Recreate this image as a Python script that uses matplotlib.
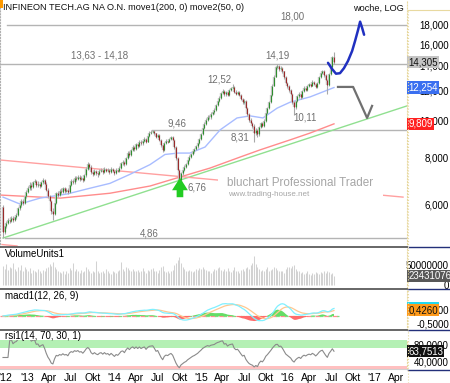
import numpy as np
import pandas as pd
import matplotlib
matplotlib.use("Agg")
import matplotlib.pyplot as plt
from matplotlib.patches import Rectangle
from matplotlib.lines import Line2D
from matplotlib.ticker import NullLocator
from matplotlib.transforms import blended_transform_factory

plt.rcParams['font.family'] = ['Liberation Sans', 'DejaVu Sans']

# weekly candles, first week ending 2012-10-05
start = pd.Timestamp("2012-10-05")
first_open = 5.90
close = [
    5.05, 5.25, 5.35, 5.45, 5.40, 5.50, 5.45, 5.55, 5.60, 5.85,
    5.95, 6.10, 6.05, 6.30, 6.45, 6.60, 6.75, 6.65, 6.85, 6.90,
    6.75, 6.80, 6.70, 6.85, 6.95, 6.80, 6.55, 6.30, 6.10, 5.75,
    5.65, 6.05, 6.40, 6.35, 6.50, 6.45, 6.60, 6.50, 6.55, 6.45,
    6.75, 6.90, 6.85, 7.05, 7.00, 7.10, 7.00, 7.05, 6.95, 7.15,
    7.45, 7.65, 7.55, 7.30, 7.20, 7.35, 7.25, 7.20, 7.35, 7.40,
    7.30, 7.45, 7.35, 7.40, 7.30, 7.45, 7.35, 7.25, 7.40, 7.35,
    7.50, 7.70, 7.75, 7.65, 7.95, 8.20, 8.10, 8.35, 8.50, 8.40,
    8.65, 8.55, 8.80, 8.70, 8.85, 8.95, 8.80, 9.10, 9.30, 9.35,
    9.40, 9.25, 9.05, 9.15, 8.90, 8.60, 8.35, 8.70, 8.85, 8.80,
    8.95, 9.05, 8.90, 8.50, 7.95, 7.40, 6.95, 7.25, 7.40, 7.55,
    7.65, 7.85, 8.00, 8.15, 8.30, 8.40, 8.55, 8.70, 8.95, 9.20,
    9.55, 9.80, 10.05, 10.25, 10.20, 10.45, 10.55, 10.65, 11.00, 11.30,
    11.50, 11.85, 12.00, 11.75, 11.90, 11.70, 12.05, 12.20, 12.30, 11.95,
    11.80, 11.90, 11.70, 11.45, 11.20, 11.30, 10.80, 10.40, 10.05, 9.85,
    9.70, 9.30, 9.45, 9.20, 9.60, 9.85, 9.70, 10.00, 10.50, 10.80,
    11.20, 11.70, 12.40, 13.10, 13.90, 14.00, 13.70, 13.85, 13.55, 13.10,
    12.60, 12.35, 12.10, 11.80, 11.20, 10.85, 11.30, 11.60, 11.80, 11.55,
    12.00, 12.25, 12.10, 12.35, 12.50, 12.40, 12.70, 12.55, 12.30, 12.60,
    13.05, 13.40, 13.55, 13.20, 12.80, 12.45, 13.30, 13.90, 14.75, 14.305,
]
high = [
    5.95, 5.30, 5.42, 5.52, 5.55, 5.58, 5.56, 5.62, 5.68, 5.90,
    6.02, 6.18, 6.20, 6.36, 6.52, 6.70, 6.85, 6.82, 6.92, 7.00,
    6.95, 6.90, 6.86, 6.92, 7.05, 7.00, 6.85, 6.60, 6.35, 6.15,
    5.85, 6.10, 6.45, 6.50, 6.58, 6.60, 6.68, 6.66, 6.62, 6.60,
    6.80, 6.98, 6.98, 7.12, 7.12, 7.18, 7.15, 7.12, 7.10, 7.22,
    7.52, 7.75, 7.72, 7.60, 7.38, 7.42, 7.40, 7.32, 7.42, 7.48,
    7.46, 7.52, 7.50, 7.48, 7.45, 7.52, 7.50, 7.40, 7.46, 7.46,
    7.58, 7.78, 7.85, 7.82, 8.02, 8.28, 8.30, 8.42, 8.60, 8.58,
    8.72, 8.72, 8.88, 8.86, 8.92, 9.04, 9.00, 9.16, 9.38, 9.44,
    9.46, 9.44, 9.30, 9.22, 9.20, 8.95, 8.65, 8.75, 8.92, 8.94,
    9.02, 9.12, 9.10, 8.95, 8.55, 8.00, 7.45, 7.30, 7.48, 7.62,
    7.72, 7.92, 8.08, 8.22, 8.38, 8.48, 8.62, 8.78, 9.02, 9.28,
    9.62, 9.90, 10.15, 10.35, 10.38, 10.55, 10.66, 10.78, 11.10, 11.42,
    11.62, 11.95, 12.15, 12.10, 12.02, 11.98, 12.15, 12.32, 12.52, 12.38,
    12.05, 12.00, 11.98, 11.78, 11.50, 11.42, 11.35, 10.88, 10.48, 10.15,
    9.95, 9.78, 9.58, 9.52, 9.68, 9.95, 9.92, 10.08, 10.60, 10.90,
    11.30, 11.80, 12.50, 13.20, 14.00, 14.19, 14.08, 13.98, 13.92, 13.60,
    13.15, 12.70, 12.45, 12.18, 11.88, 11.30, 11.40, 11.70, 11.92, 11.88,
    12.10, 12.35, 12.32, 12.45, 12.62, 12.58, 12.80, 12.78, 12.62, 12.68,
    13.15, 13.50, 13.68, 13.62, 13.28, 12.90, 13.40, 14.00, 14.90, 15.20,
]
low = [
    4.86, 5.00, 5.18, 5.30, 5.33, 5.36, 5.38, 5.40, 5.48, 5.56,
    5.78, 5.90, 5.96, 6.00, 6.24, 6.40, 6.55, 6.55, 6.60, 6.78,
    6.68, 6.66, 6.62, 6.65, 6.80, 6.72, 6.50, 6.22, 6.00, 5.65,
    5.45, 5.60, 6.00, 6.25, 6.30, 6.38, 6.40, 6.42, 6.44, 6.38,
    6.42, 6.70, 6.78, 6.80, 6.92, 6.95, 6.92, 6.94, 6.88, 6.90,
    7.10, 7.40, 7.45, 7.22, 7.12, 7.15, 7.18, 7.10, 7.15, 7.28,
    7.22, 7.25, 7.28, 7.30, 7.22, 7.25, 7.28, 7.15, 7.20, 7.28,
    7.30, 7.45, 7.62, 7.58, 7.60, 7.90, 8.02, 8.05, 8.30, 8.30,
    8.35, 8.46, 8.50, 8.62, 8.64, 8.78, 8.72, 8.76, 9.05, 9.22,
    9.26, 9.18, 8.98, 8.98, 8.84, 8.50, 8.25, 8.30, 8.65, 8.72,
    8.75, 8.90, 8.84, 8.42, 7.85, 7.30, 6.76, 6.90, 7.18, 7.35,
    7.48, 7.60, 7.80, 7.94, 8.08, 8.22, 8.34, 8.48, 8.65, 8.90,
    9.15, 9.50, 9.75, 9.98, 10.10, 10.12, 10.38, 10.45, 10.60, 10.95,
    11.22, 11.45, 11.78, 11.65, 11.62, 11.60, 11.65, 11.98, 12.10, 11.85,
    11.70, 11.72, 11.60, 11.35, 11.08, 11.10, 10.70, 10.30, 9.95, 9.75,
    9.55, 8.75, 9.15, 9.05, 9.12, 9.55, 9.60, 9.65, 9.95, 10.42,
    10.75, 11.15, 11.65, 12.35, 13.05, 13.75, 13.55, 13.60, 13.40, 12.95,
    12.45, 12.20, 11.95, 11.65, 11.05, 10.35, 10.75, 11.20, 11.50, 11.45,
    11.50, 11.92, 11.98, 12.02, 12.28, 12.30, 12.35, 12.45, 12.20, 12.22,
    12.55, 12.98, 13.30, 13.10, 12.70, 11.80, 12.40, 13.25, 13.85, 14.20,
]
volume_m = [
    48, 40, 52, 38, 45, 42, 55, 40, 36, 44,
    38, 50, 34, 46, 40, 36, 42, 30, 38, 35,
    33, 40, 36, 30, 38, 34, 42, 45, 52, 48,
    58, 44, 40, 36, 32, 30, 34, 28, 35, 30,
    42, 38, 55, 36, 40, 34, 30, 38, 33, 36,
    44, 40, 36, 30, 34, 32, 60, 35, 30, 33,
    36, 30, 40, 34, 30, 28, 36, 32, 30, 34,
    38, 58, 40, 36, 44, 42, 38, 35, 40, 36,
    34, 38, 32, 36, 42, 34, 30, 38, 36, 40,
    42, 34, 36, 30, 38, 44, 48, 36, 32, 34,
    30, 34, 38, 50, 56, 62, 70, 55, 44, 40,
    36, 34, 38, 35, 32, 36, 40, 38, 42, 40,
    44, 40, 38, 36, 34, 30, 36, 40, 38, 42,
    44, 38, 36, 40, 34, 42, 36, 32, 38, 44,
    36, 34, 30, 38, 40, 35, 42, 46, 40, 50,
    56, 72, 52, 46, 40, 36, 38, 34, 40, 44,
    36, 38, 40, 44, 42, 38, 36, 34, 36, 30,
    40, 44, 46, 42, 48, 50, 40, 36, 34, 30,
    32, 28, 30, 34, 28, 26, 30, 28, 32, 30,
    28, 32, 30, 34, 30, 36, 32, 28, 30, 23.431076,
]

# moving averages (week index, price)
ma200_wk = [-1.8, 34.3, 64.3, 88.4, 106.4, 124.5, 142.5, 154.5, 172.6, 184.6, 199]
ma200_px = [6.34, 6.22, 6.41, 6.70, 7.08, 7.48, 8.00, 8.36, 8.89, 9.27, 9.809]
ma50_wk = [0, 10.2, 22.2, 38.5, 52.3, 64.3, 76.4, 88.4, 97.4, 105.2, 112.4,
           121.5, 130.5, 140.7, 148.5, 156.3, 164.8, 172.6, 184.6, 199]
ma50_px = [6.26, 6.00, 6.22, 6.38, 6.61, 6.81, 7.20, 7.64, 8.13, 8.20, 8.20,
           8.51, 9.45, 10.17, 10.30, 10.17, 10.80, 11.20, 11.57, 12.254]

# drawn trend lines and forecast sketches (week index, price)
green_wk, green_px = [0, 242.9], [4.87, 10.95]
redline_wk, redline_px = [-1.8, 240.5], [7.86, 6.26]
redlow_wk, redlow_px = [-0.6, 8.4], [4.68, 4.64]
blue_wk = [195.4, 197.8, 200.2, 202.6, 205.0, 207.4, 209.9, 211.7, 213.5, 214.7, 215.9, 217.1]
blue_px = [14.26, 13.74, 13.34, 13.38, 13.80, 14.42, 15.33, 16.32, 17.46, 18.35, 17.68, 16.94]
grey_wk = [201.4, 210.5, 218.9, 221.9]
grey_px = [12.30, 12.30, 10.17, 10.95]

levels = [(18.00, 2.4), (14.18, -1.8), (9.46, 89.6), (4.86, 1.2)]
level_texts = [("18,00", 173.8, 18.9), ("13,63 - 14,18", 58.3, 14.95),
               ("14,19", 164.8, 14.95), ("12,52", 130.0, 12.9),
               ("9,46", 104.6, 9.8), ("8,31", 142.5, 9.0),
               ("10,11", 181.6, 10.2), ("6,76", 116.7, 6.65),
               ("4,86", 87.8, 5.0)]

price_ticks = [6, 8, 10, 12, 14, 16, 18]
xtick_dates = ["2012-10-01", "2013-01-01", "2013-04-01", "2013-07-01", "2013-10-01",
               "2014-01-01", "2014-04-01", "2014-07-01", "2014-10-01",
               "2015-01-01", "2015-04-01", "2015-07-01", "2015-10-01",
               "2016-01-01", "2016-04-01", "2016-07-01", "2016-10-01",
               "2017-01-01", "2017-04-01"]
xtick_labels = ["'12", "'13", "Apr", "Jul", "Okt", "'14", "Apr", "Jul", "Okt",
                "'15", "Apr", "Jul", "Okt", "'16", "Apr", "Jul", "Okt", "'17", "Apr"]

n = len(close)
wk = np.arange(n)
c = np.array(close)
o = np.array([first_open] + close[:-1])
s = pd.Series(c)
macd = s.ewm(span=12, adjust=False).mean() - s.ewm(span=26, adjust=False).mean()
signal = macd.ewm(span=9, adjust=False).mean()
hist = macd - signal
d = s.diff().fillna(0)
up = d.clip(lower=0).ewm(alpha=1 / 14, adjust=False).mean()
dn = (-d.clip(upper=0)).ewm(alpha=1 / 14, adjust=False).mean()
rsi = 100 - 100 / (1 + up / dn.replace(0, np.nan))
rsi = rsi.fillna(50)

W, H = 450, 383
def px_rect(x0, y0, x1, y1):
    return [x0 / W, 1 - y1 / H, (x1 - x0) / W, (y1 - y0) / H]

fig = plt.figure(figsize=(4.5, 3.83), dpi=100)
fig.patch.set_facecolor("white")
ax_p = fig.add_axes(px_rect(0, 0, 407, 247))
ax_v = fig.add_axes(px_rect(0, 248, 407, 288))
ax_m = fig.add_axes(px_rect(0, 289, 407, 330))
ax_r = fig.add_axes(px_rect(0, 340, 407, 369))
XL = (-1.8, 242.9)

for ax in (ax_p, ax_v, ax_m, ax_r):
    ax.set_xlim(*XL)
    for sp in ax.spines.values():
        sp.set_visible(False)
    ax.spines["right"].set_visible(True)
    ax.spines["right"].set_linestyle(":")
    ax.spines["right"].set_color("#e8d9a0")
    ax.yaxis.tick_right()
    ax.tick_params(axis="y", length=0, labelsize=7, pad=30.2)
    ax.tick_params(axis="x", length=0)
    ax.set_xticks([])

# ---- price panel
ax_p.set_yscale("log")
ax_p.set_ylim(4.61, 20.96)
ax_p.yaxis.set_minor_locator(NullLocator())
ax_p.set_yticks(price_ticks)
ax_p.set_yticklabels([f"{v:.3f}".replace(".", ",") for v in price_ticks])
ax_p.spines["left"].set_visible(True)
ax_p.spines["left"].set_linestyle(":")
ax_p.spines["left"].set_color("#b0b0b0")

for lvl, x0 in levels:
    ax_p.plot([x0, XL[1]], [lvl, lvl], color="#b4b4b4", lw=1.0, zorder=1)
for txt, tx, ty in level_texts:
    ax_p.text(tx, ty, txt, fontsize=7, color="#707070", ha="center", va="center", zorder=6)

ax_p.plot(green_wk, green_px, color="#90e090", lw=1.0, zorder=2)
ax_p.plot(redline_wk, redline_px, color="#ffa0a0", lw=1.0, zorder=2)
ax_p.plot(redlow_wk, redlow_px, color="#ffa0a0", lw=1.0, zorder=2)
ax_p.plot(ma200_wk, ma200_px, color="#ff8c8c", lw=1.0, zorder=2)
ax_p.plot(ma50_wk, ma50_px, color="#a8bcff", lw=1.0, zorder=2)

# watermark box hides what is behind it
tr_ax = ax_p.transAxes
ax_p.add_patch(Rectangle((218 / 407, (247 - 202) / 247), 165 / 407, 29 / 247,
                         transform=tr_ax, facecolor="white", edgecolor="none", zorder=3))
ax_p.text(227 / 407, (247 - 183) / 247, "bluchart Professional Trader", transform=tr_ax,
          fontsize=8.4, color="#a6a6a6", ha="left", va="center", zorder=4)
ax_p.text(228 / 407, (247 - 195) / 247, "www.trading-house.net", transform=tr_ax,
          fontsize=5.8, color="#a6a6a6", ha="left", va="center", zorder=4)

# candles: grey wick, light grey body frame, coloured core
hi = np.array(high)
lo = np.array(low)
ax_p.vlines(wk, lo, hi, color="#a8a8a8", lw=0.8, zorder=4)
upc = c >= o
body_lo = np.minimum(o, c)
body_hi = np.maximum(o, c)
ax_p.vlines(wk, body_lo, body_hi, color="#c4c4c4", lw=1.7, zorder=5)
ax_p.vlines(wk[upc], body_lo[upc], body_hi[upc], color="#2f8f2f", lw=0.75, zorder=6)
ax_p.vlines(wk[~upc], body_lo[~upc], body_hi[~upc], color="#9a2a2a", lw=0.75, zorder=6)

ax_p.plot(blue_wk, blue_px, color="#2030c0", lw=1.8, zorder=7,
          solid_capstyle="round", solid_joinstyle="round")
ax_p.plot(grey_wk, grey_px, color="#707070", lw=1.6, zorder=7)

ax_p.annotate("", xy=(106.4, 7.17), xytext=(106.4, 6.15),
              arrowprops=dict(arrowstyle="simple,head_length=0.75,head_width=0.95,tail_width=0.4",
                              mutation_scale=12, color="#22cc22", lw=0), zorder=8)

ax_p.text(3 / 407, 1 - 8 / 247, "INFINEON TECH.AG NA O.N. move1(200, 0) move2(50, 0)",
          transform=tr_ax, fontsize=6.6, ha="left", va="center", color="#111111")
ax_p.text(404 / 407, 1 - 8 / 247, "woche, LOG", transform=tr_ax, fontsize=6.6,
          ha="right", va="center", color="#111111")

def value_box(ax, y, text, fc, tc):
    tr = blended_transform_factory(ax.transAxes, ax.transData)
    ax.text(1.003, y, text, transform=tr, fontsize=7, color=tc, ha="left", va="center",
            bbox=dict(facecolor=fc, edgecolor="none", pad=0.8), clip_on=False, zorder=10)

value_box(ax_p, close[-1], "14,305", "#c4c4c4", "#111111")
value_box(ax_p, ma50_px[-1], "12,254", "#3a6ff0", "white")
value_box(ax_p, ma200_px[-1], "9,809", "#ff2020", "white")

# ---- volume panel
vol = np.array(volume_m) * 1e6
ax_v.set_ylim(-7.5e6, 92.5e6)
ax_v.vlines(wk, 0, vol, color="#d2d2d2", lw=0.75, zorder=2)
ax_v.set_yticks([0, 50e6])
ax_v.set_yticklabels(["0", "50000000"])
ax_v.text(5 / 407, 0.84, "VolumeUnits1", transform=ax_v.transAxes, fontsize=7, va="center")
value_box(ax_v, vol[-1], "23431076", "#585858", "white")

# ---- macd panel
ax_m.set_ylim(-1.0, 1.93)
ax_m.fill_between(wk, 0, hist, where=hist >= 0, color="#66dd66", lw=0, interpolate=True, zorder=2)
ax_m.fill_between(wk, 0, hist, where=hist < 0, color="#ff6b6b", lw=0, interpolate=True, zorder=2)
ax_m.plot(wk, signal, color="#ffc890", lw=0.9, zorder=3)
ax_m.plot(wk, macd, color="#80f0ff", lw=0.9, zorder=3)
xm = (n + 2 - XL[0]) / (XL[1] - XL[0])
ax_m.axhline(0, color="#ff9090", lw=0.9, ls=(0, (4, 3)), xmax=xm, zorder=1)
ax_m.axhline(0, color="#80e080", lw=0.9, ls=(3.5, (3, 4)), xmax=xm, zorder=1)
ax_m.set_yticks([-0.5, 0.5])
ax_m.set_yticklabels(["-0,5000", "0,5000"])
ax_m.text(5 / 407, 0.84, "macd1(12, 26, 9)", transform=ax_m.transAxes, fontsize=7, va="center")
value_box(ax_m, macd.iloc[-1], f"{macd.iloc[-1]:.4f}".replace(".", ","), "#22d8f0", "#111111")
value_box(ax_m, 0.426, "0,4260", "#ff9a1a", "#111111")

# ---- rsi panel
ax_r.set_ylim(24.4, 88.9)
ax_r.axhspan(70, 100, color="#b4f0b4", lw=0, zorder=1)
ax_r.axhspan(0, 30, color="#ffc0c0", lw=0, zorder=1)
ax_r.plot(wk, rsi, color="#8a8a8a", lw=0.8, zorder=3)
ax_r.set_yticks([40, 80])
ax_r.set_yticklabels(["40,0000", "80,0000"])
value_box(ax_r, 63.7513, "63,7513", "#111111", "white")
fig.text(5 / W, 1 - 336 / H, "rsi1(14, 70, 30, 1)", fontsize=7, va="center")

xt = [(pd.Timestamp(dd) - start).days / 7 + 2.2 for dd in xtick_dates]
ax_r.set_xticks(xt)
ax_r.set_xticklabels(xtick_labels, fontsize=7.5)
ax_r.tick_params(axis="x", pad=3)

for ax in (ax_p, ax_v, ax_m, ax_r):
    for lbl in ax.get_yticklabels():
        lbl.set_horizontalalignment("right")

# panel separators and small decorations
for yb in (247.5, 288.5, 330):
    fig.add_artist(Line2D([0, 407 / W], [1 - yb / H] * 2, color="#5a5a5a", lw=1.3))
    fig.add_artist(Line2D([408 / W, 1], [1 - yb / H] * 2, color="#23307a", lw=1.0))
fig.add_artist(Line2D([0, 407 / W], [1 - 369 / H] * 2, color="#d0d0d0", lw=0.8))
fig.add_artist(Line2D([408 / W, 1], [1 - 369.5 / H] * 2, color="#23307a", lw=1.0))
fig.add_artist(Line2D([408 / W, 408 / W], [1 - 383 / H, 1 - 10 / H], color="#e8d9a0", lw=0.8, ls=":"))
fig.add_artist(Line2D([408 / W, 1], [1 - 10 / H] * 2, color="#e8d9a0", lw=0.8))
fig.add_artist(Rectangle((0, 1 - 8 / H), 2.5 / W, 8 / H, transform=fig.transFigure,
                         facecolor="#ff9a00", edgecolor="none"))

fig.savefig("out.png", dpi=100)
